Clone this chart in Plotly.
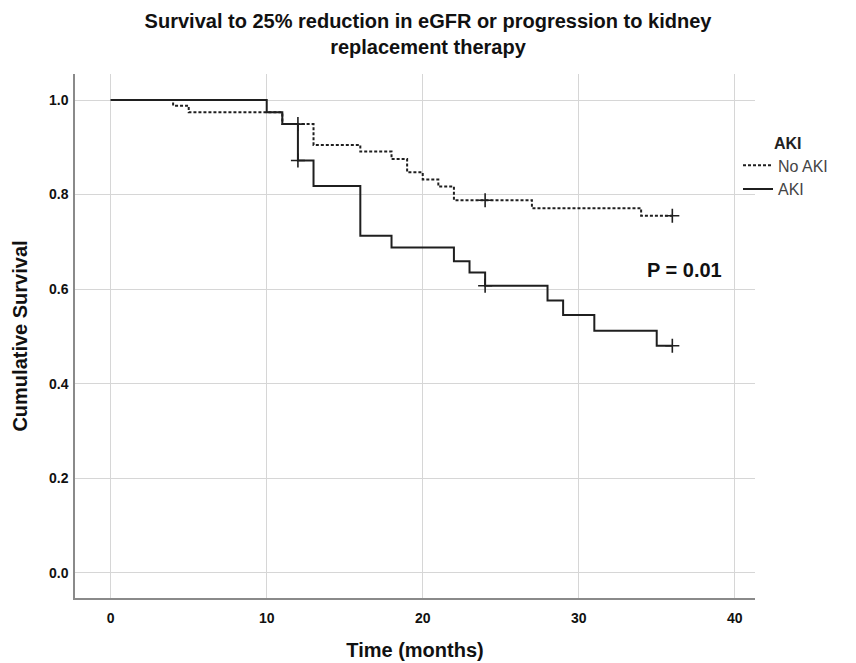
import plotly.graph_objects as go

# ---- data ----
no_aki_time = [0, 4, 5, 11, 13, 16, 18, 19, 20, 21, 22, 27, 34, 36]
no_aki_surv = [1.0, 0.988, 0.974, 0.949, 0.905, 0.891, 0.875, 0.847, 0.832, 0.817, 0.788, 0.771, 0.755, 0.755]
no_aki_cens_time = [12, 24, 36]
no_aki_cens_surv = [0.949, 0.788, 0.755]

aki_time = [0, 10, 11, 12, 13, 16, 18, 22, 23, 24, 28, 29, 31, 35, 36]
aki_surv = [1.0, 0.974, 0.949, 0.872, 0.818, 0.713, 0.688, 0.659, 0.635, 0.607, 0.576, 0.545, 0.512, 0.480, 0.480]
aki_cens_time = [12, 24, 36]
aki_cens_surv = [0.872, 0.607, 0.480]

x_ticks = [0, 10, 20, 30, 40]
y_ticks = [0.0, 0.2, 0.4, 0.6, 0.8, 1.0]

title_text = "Survival to 25% reduction in eGFR or progression to kidney<br>replacement therapy"
p_text = "P = 0.01"

FONT = "Liberation Sans, Arial, sans-serif"
INK = "#1f1f1f"

W, H = 848, 655  # page has an 8px body margin at top/left

fig = go.Figure()

fig.add_trace(go.Scatter(
    x=no_aki_time, y=no_aki_surv, mode="lines", name="No AKI",
    line=dict(shape="hv", color=INK, width=2, dash="3px,2px"),
    legendgroup="noaki", hoverinfo="skip"))
fig.add_trace(go.Scatter(
    x=aki_time, y=aki_surv, mode="lines", name="AKI",
    line=dict(shape="hv", color=INK, width=2),
    legendgroup="aki", hoverinfo="skip"))
fig.add_trace(go.Scatter(
    x=no_aki_cens_time, y=no_aki_cens_surv, mode="markers", showlegend=False,
    legendgroup="noaki",
    marker=dict(symbol="cross-thin", size=10, line=dict(color=INK, width=1.6))))
fig.add_trace(go.Scatter(
    x=aki_cens_time, y=aki_cens_surv, mode="markers", showlegend=False,
    legendgroup="aki",
    marker=dict(symbol="cross-thin", size=10, line=dict(color=INK, width=1.6))))

fig.add_annotation(x=36.8, y=0.640, text="<b>" + p_text + "</b>", showarrow=False,
                   font=dict(family=FONT, size=20, color="#111"))
fig.add_annotation(x=1.025, y=0.868, xref="paper", yref="paper", text="<b>AKI</b>",
                   showarrow=False, xanchor="left", yanchor="middle",
                   font=dict(family=FONT, size=16, color="#222"))

fig.update_layout(
    width=W, height=H,
    margin=dict(l=67, r=101, t=66, b=65, autoexpand=False),
    paper_bgcolor="white", plot_bgcolor="white",
    title=dict(text="<b>" + title_text + "</b>", x=(428 - 8) / W, xref="container", xanchor="center",
               y=1 - 20 / H, yref="container", yanchor="top",
               font=dict(family=FONT, size=20, color="#111")),
    font=dict(family=FONT, color="#111"),
    legend=dict(x=0.975, y=0.858, xanchor="left", yanchor="top",
                bgcolor="rgba(0,0,0,0)", font=dict(family=FONT, size=16, color="#444"),
                tracegroupgap=0, itemwidth=30),
    showlegend=True,
)
fig.update_xaxes(
    range=[-2.29, 41.3], tickvals=x_ticks, ticktext=[f"<b>{v}</b>" for v in x_ticks],
    showgrid=True, gridcolor="#d6d6d6", gridwidth=1, zeroline=False,
    showline=True, linecolor="#8a8a8a", linewidth=1.5, ticks="", automargin=False,
    tickfont=dict(family=FONT, size=14, color="#111"), ticklabelstandoff=6,
    title=dict(text="<b>Time (months)</b>", font=dict(family=FONT, size=20, color="#111"), standoff=18),
)
fig.update_yaxes(
    range=[-0.0535, 1.055], tickvals=y_ticks, ticktext=[f"<b>{v:.1f}</b>" for v in y_ticks],
    showgrid=True, gridcolor="#d6d6d6", gridwidth=1, zeroline=False,
    showline=True, linecolor="#8a8a8a", linewidth=1.5, ticks="", automargin=False,
    tickfont=dict(family=FONT, size=14, color="#111"), ticklabelstandoff=2,
    title=dict(text="<b>Cumulative Survival</b>", font=dict(family=FONT, size=20, color="#111"), standoff=16),
)

fig.write_html("out.html")
